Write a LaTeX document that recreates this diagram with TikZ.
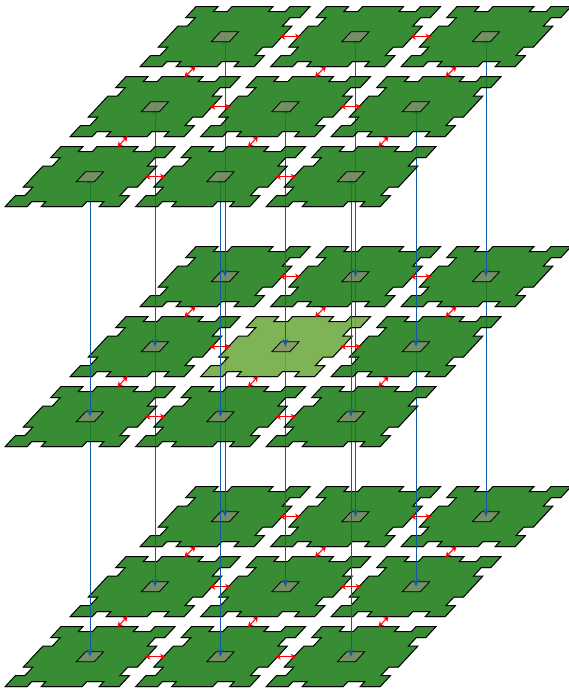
\documentclass[tikz,border=0pt]{standalone}
\usetikzlibrary{arrows.meta,calc}
\definecolor{tilegreen}{RGB}{34,132,29}
\definecolor{tilelight}{RGB}{116,179,67}
\definecolor{arrowblue}{RGB}{16,90,160}
\definecolor{platecol}{RGB}{140,145,120}
\tikzset{
  tilestyle/.style={draw=black, line width=1pt, line join=miter, fill opacity=0.85},
  shadowstyle/.style={fill=black, opacity=0.25},
  platestyle/.style={draw=black, line width=0.8pt, fill=platecol, fill opacity=0.7},
  redline/.style={draw=red, line width=1pt},
  redhead/.style={fill=red},
  bluearr/.style={draw=arrowblue, line width=1pt, arrows={Stealth[length=8pt,width=6pt]-}}
}
% tile outline in local (u,v): u in [-57,57], v in [-30,30], two notches per side
\newcommand\tileoutline[1]{%
  \path[#1] (-57,-30) -- (-35,-30) -- (-35,-25) -- (-21,-25) -- (-21,-30)
   -- (20,-30) -- (20,-25) -- (37,-25) -- (37,-30) -- (57,-30)
   -- (57,-19) -- (47.5,-19) -- (47.5,-10.5) -- (57,-10.5)
   -- (57,10.5) -- (47.5,10.5) -- (47.5,19) -- (57,19) -- (57,30)
   -- (37,30) -- (37,25) -- (20,25) -- (20,30)
   -- (-21,30) -- (-21,25) -- (-35,25) -- (-35,30) -- (-57,30)
   -- (-57,19) -- (-47.5,19) -- (-47.5,10.5) -- (-57,10.5)
   -- (-57,-10.5) -- (-47.5,-10.5) -- (-47.5,-19) -- (-57,-19) -- cycle;}
\newcommand\headat[2]{% tip #1, pointing away from #2
  \coordinate (hb) at ($(#1)!5.5pt!(#2)$);
  \fill[redhead] (#1) -- ($(hb)!3pt!90:(#1)$) -- ($(hb)!1.5pt!(#1)$) -- ($(hb)!3pt!-90:(#1)$) -- cycle;}
\newcommand\redarrow[2]{%
  \coordinate (ra) at ($(#1)!0.42!(#2)$);
  \coordinate (rb) at ($(#1)!0.58!(#2)$);
  \draw[redline] ($(ra)!3pt!(rb)$) -- ($(rb)!3pt!(ra)$);
  \headat{ra}{rb}\headat{rb}{ra}}
\newcommand\drawlayer[1]{%
  \foreach \j in {2,1,0}{\foreach \i in {0,1,2}{%
    \ifnum#1\i\j=111 \def\tc{tilelight}\else\def\tc{tilegreen}\fi
    \begin{scope}[shift={(c#1\i\j)}, cm={1,0,0.93,1,(0,0)}]
      \begin{scope}[xshift=0.8pt,yshift=-0.8pt]\tileoutline{shadowstyle}\end{scope}
      \tileoutline{tilestyle,fill=\tc}
      \path[platestyle] (-9,-5) rectangle (9,5);
    \end{scope}
  }}
  \foreach \j in {0,1,2}{\foreach \i in {0,1}{%
    \pgfmathtruncatemacro\ii{\i+1}
    \redarrow{c#1\i\j}{c#1\ii\j}
  }}
  \foreach \j in {0,1}{\foreach \i in {0,1,2}{%
    \pgfmathtruncatemacro\jj{\j+1}
    \redarrow{c#1\i\j}{c#1\i\jj}
  }}
}
\begin{document}
\begin{tikzpicture}[x=1pt,y=1pt]
\useasboundingbox (0,0) rectangle (569,692);
\foreach \L in {0,1,2}{\foreach \i in {0,1,2}{\foreach \j in {0,1,2}{%
  \pgfmathsetmacro\X{90+130.5*\i+65*\j+2.5*\j*(\j-1)}
  \pgfmathsetmacro\Y{692-(176.7+240*\L-70*\j)}
  \coordinate (c\L\i\j) at (\X,\Y);
}}}
\drawlayer{2}
\foreach \i in {0,1,2}{\foreach \j in {0,1,2}{\draw[bluearr] (c2\i\j) -- (c1\i\j);}}
\drawlayer{1}
\foreach \i in {0,1,2}{\foreach \j in {0,1,2}{%
  \draw[bluearr] (c1\i\j) -- (c0\i\j);
  \draw[bluearr] (c0\i\j) -- ($(c0\i\j)!12pt!(c1\i\j)$);}}
\drawlayer{0}
\end{tikzpicture}
\end{document}
